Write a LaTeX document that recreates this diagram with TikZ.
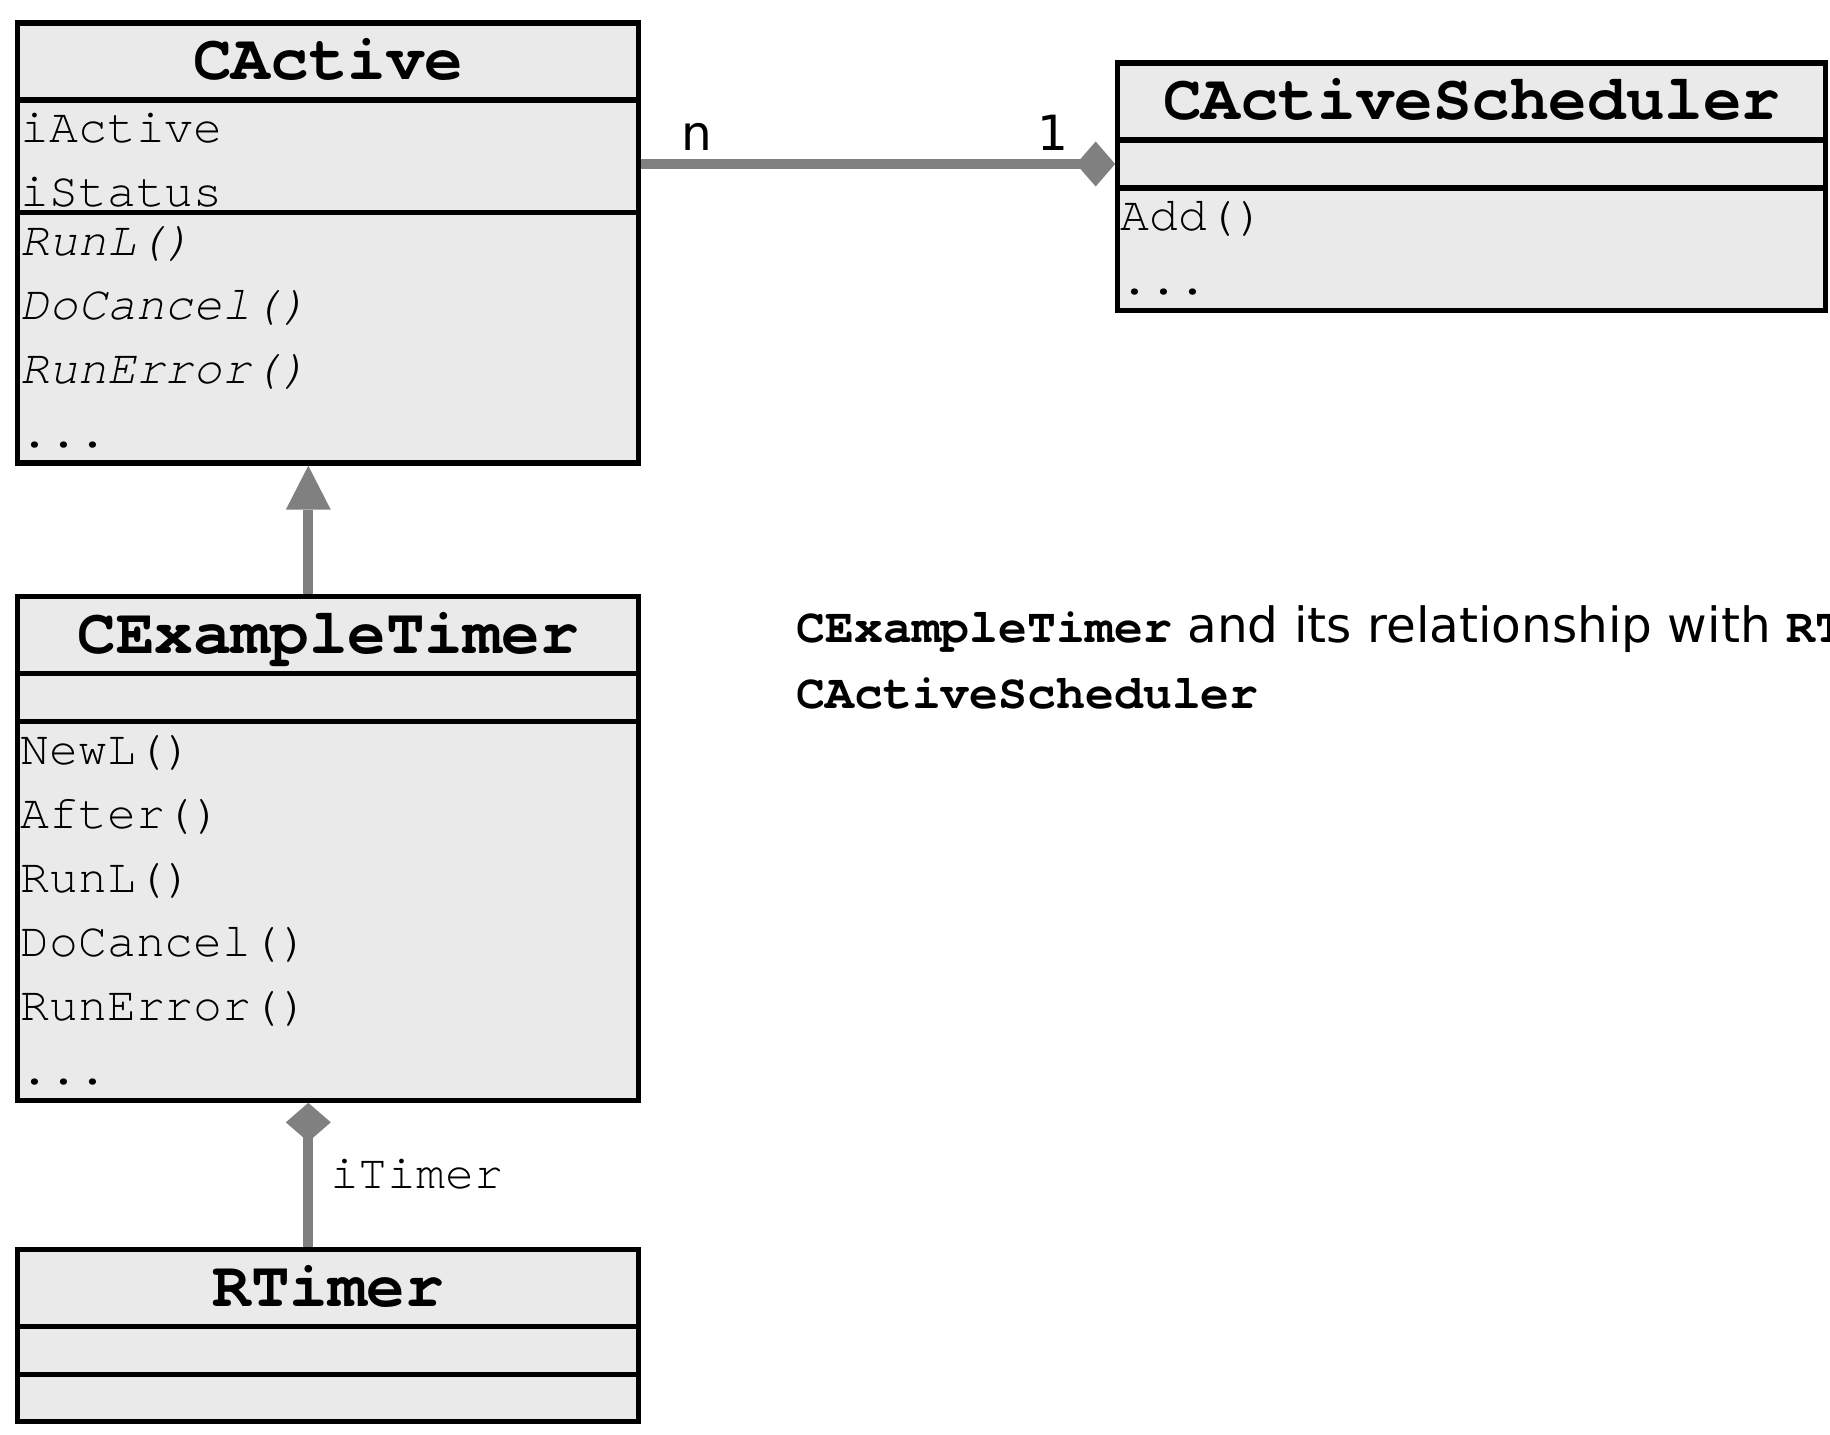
\documentclass[tikz,border=0pt]{standalone}
\usepackage{fontspec}
\setmainfont{DejaVu Sans}
\setmonofont{texgyrecursor}[Extension=.otf, UprightFont=*-regular,
  BoldFont=*-bold, ItalicFont=*-italic, BoldItalicFont=*-bolditalic]
\usepackage{tikz}
\usetikzlibrary{arrows.meta, positioning}
\definecolor{boxgray}{RGB}{234,234,234}
\definecolor{linkgray}{RGB}{128,128,128}
\newcommand{\clsfont}{\fontsize{18.3}{22}\selectfont\ttfamily\bfseries}
\newcommand{\membfont}{\fontsize{13.7}{16}\selectfont\ttfamily}
\newcommand{\capfont}{\fontsize{13.8}{16}\selectfont}
\tikzset{
  clstitle/.style={rectangle, draw=black, line width=1.5pt, fill=boxgray,
                   outer sep=0pt, inner sep=0pt, minimum width=6.21cm,
                   minimum height=0.77cm, text height=0.37cm, text depth=0pt,
                   font=\clsfont},
  compart/.style={rectangle, draw=black, line width=1.5pt, fill=boxgray,
                  outer sep=0pt, inner sep=0pt, minimum width=6.21cm,
                  minimum height=0.48cm},
  member/.style={anchor=base west, inner sep=0pt, font=\membfont},
  absmember/.style={member, font=\membfont\itshape},
  mult/.style={anchor=base west, inner sep=0pt, font=\capfont},
  inherit/.style={-{Triangle[length=0.44cm, width=0.45cm, line width=0pt]},
                  line width=2.85pt, draw=linkgray, fill=linkgray,
                  shorten <=0.75pt, shorten >=0.75pt},
  compose/.style={-{Diamond[length=0.39cm, width=0.45cm, line width=0pt]},
                  line width=2.85pt, draw=linkgray, fill=linkgray,
                  shorten <=0.75pt, shorten >=0.75pt},
}

\begin{document}
\begin{tikzpicture}
  \useasboundingbox (0,0) rectangle (18.3,-14.35);
  \clip (0,0) rectangle (18.3,-14.35);

  % CActive
  \node[clstitle, anchor=north west] (acttitle) at (0.178,-0.23) {CActive};
  \node[compart, minimum height=1.123cm, below=0pt of acttitle] (actattr) {};
  \node[compart, minimum height=2.508cm, below=0pt of actattr] (actops) {};

  \node[below right=0.43cm and 0.02cm of actattr.north west, member] (iactive) {iActive};
  \node[below=0.64cm of iactive.base west, member] (istatus) {iStatus};
  \node[below right=0.43cm and 0.02cm of actops.north west, absmember] (arunl) {RunL()};
  \node[below=0.64cm of arunl.base west, absmember] (adocancel) {DoCancel()};
  \node[below=0.64cm of adocancel.base west, absmember] (arunerror) {RunError()};
  \node[below=0.64cm of arunerror.base west, member] (amore) {...};

  % CActiveScheduler
  \node[clstitle, minimum width=7.08cm,
        below right=0.40cm and 4.79cm of acttitle.north east] (schedtitle) {CActiveScheduler};
  \node[compart, minimum width=7.08cm, below=0pt of schedtitle] (schedattr) {};
  \node[compart, minimum width=7.08cm, minimum height=1.227cm, below=0pt of schedattr] (schedops) {};

  \node[below right=0.43cm and 0.02cm of schedops.north west, member] (sadd) {Add()};
  \node[below=0.64cm of sadd.base west, member] (smore) {...};

  % CExampleTimer
  \node[clstitle, below=1.334cm of actops] (extitle) {CExampleTimer};
  \node[compart, below=0pt of extitle] (exattr) {};
  \node[compart, minimum height=3.787cm, below=0pt of exattr] (exops) {};

  \node[below right=0.43cm and 0.02cm of exops.north west, member] (enewl) {NewL()};
  \node[below=0.64cm of enewl.base west, member] (eafter) {After()};
  \node[below=0.64cm of eafter.base west, member] (erunl) {RunL()};
  \node[below=0.64cm of erunl.base west, member] (edocancel) {DoCancel()};
  \node[below=0.64cm of edocancel.base west, member] (erunerror) {RunError()};
  \node[below=0.64cm of erunerror.base west, member] (emore) {...};

  % RTimer
  \node[clstitle, below=1.493cm of exops] (rttitle) {RTimer};
  \node[compart, below=0pt of rttitle] (rtattr) {};
  \node[compart, minimum height=0.47cm, below=0pt of rtattr] (rtops) {};

  % Relationships
  \coordinate (linkstart) at (actattr.east |- schedattr.west);
  \draw[compose] (linkstart) -- (schedattr.west);
  \node[above right=0.13cm and 0.418cm of linkstart, mult] (nlabel) {n};
  \node[above left=0.13cm and 0.49cm of schedattr.west, mult, anchor=base east] (onelabel) {1};

  \draw[inherit] ([xshift=-0.2cm]extitle.north) -- ([xshift=-0.2cm]actops.south);

  \draw[compose] ([xshift=-0.2cm]rttitle.north) -- ([xshift=-0.2cm]exops.south);
  \node[above right=0.61cm and 0.01cm of rttitle.north, member] (itimer) {iTimer};

  % Caption
  \node[below right=0.07cm and 1.57cm of extitle.east, mult] (capone)
    {{\membfont\bfseries CExampleTimer} and its relationship with {\membfont\bfseries RT}};
  \node[below=0.66cm of capone.base west, mult] (captwo)
    {\membfont\bfseries CActiveScheduler};
\end{tikzpicture}
\end{document}
